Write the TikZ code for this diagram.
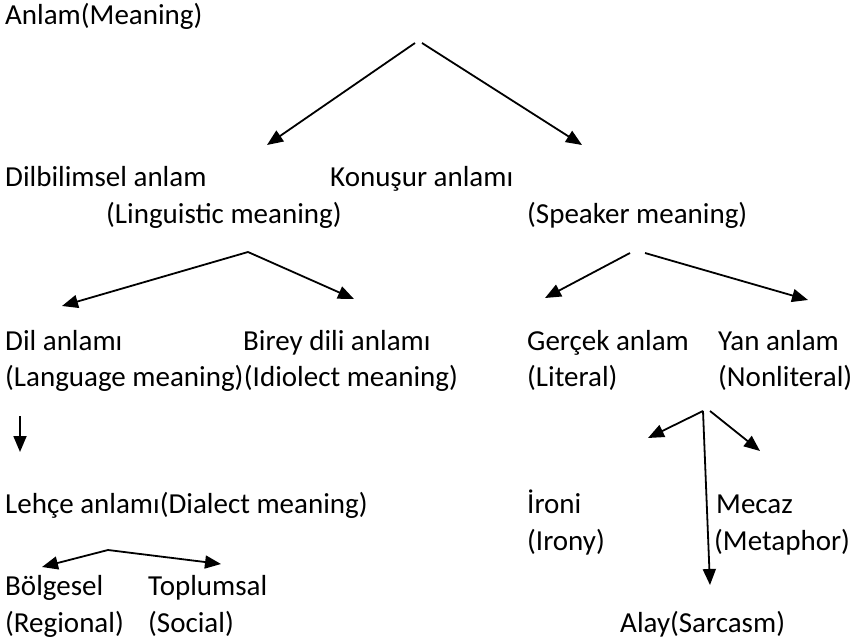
\documentclass[tikz,border=0pt]{standalone}
\usepackage{fontspec}
\setmainfont{Carlito}
\usetikzlibrary{arrows.meta}
\begin{document}
\begin{tikzpicture}[x=1pt,y=-1pt,
  lbl/.style={anchor=base west,inner sep=0pt,font=\fontsize{29}{35}\selectfont},
  arr/.style={line width=1.8pt,-{Triangle[length=16pt,width=13pt]}}]
\useasboundingbox[fill=white] (0,0) rectangle (856,644);
% texts
\node[lbl] (anlam) at (5,25) {Anlam(Meaning)};
\node[lbl] (dilb) at (5,187) {Dilbilimsel anlam};
\node[lbl] (konu) at (330,187) {Konuşur anlamı};
\node[lbl] (ling) at (106,224) {(Linguistic meaning)};
\node[lbl] (spk) at (527,224) {(Speaker meaning)};
\node[lbl] (dil) at (5,350) {Dil anlamı};
\node[lbl] (birey) at (243,350) {Birey dili anlamı};
\node[lbl] (gercek) at (527,350) {Gerçek anlam};
\node[lbl] (yan) at (718,350) {Yan anlam};
\node[lbl] (lang) at (5,386) {(Language meaning)};
\node[lbl] (idio) at (lang.base east) {(Idiolect meaning)};
\node[lbl] (lit) at (527,386) {(Literal)};
\node[lbl] (nonlit) at (718,386) {(Nonliteral)};
\node[lbl] (lehce) at (5,513) {Lehçe anlamı(Dialect meaning)};
\node[lbl] (ironi) at (527,513) {İroni};
\node[lbl] (mecaz) at (716,513) {Mecaz};
\node[lbl] (irony) at (527,550) {(Irony)};
\node[lbl] (meta) at (714,550) {(Metaphor)};
\node[lbl] (bolg) at (5,595) {Bölgesel};
\node[lbl] (topl) at (148,595) {Toplumsal};
\node[lbl] (reg) at (5,632) {(Regional)};
\node[lbl] (soc) at (148,632) {(Social)};
\node[lbl] (alay) at (620,632) {Alay(Sarcasm)};
% arrow points
\coordinate (a1s) at (415,43); \coordinate (a1t) at (267,145);
\coordinate (a2s) at (422,43); \coordinate (a2t) at (582,145);
\coordinate (b0) at (248,252); \coordinate (b1t) at (62,306); \coordinate (b2t) at (354,299);
\coordinate (c1s) at (630,253); \coordinate (c1t) at (545,298);
\coordinate (c2s) at (645,253); \coordinate (c2t) at (808,300);
\coordinate (d1s) at (20,416); \coordinate (d1t) at (20,452);
\coordinate (e0) at (703,411); \coordinate (e1t) at (648,438);
\coordinate (e2s) at (710,411); \coordinate (e2t) at (760,451);
\coordinate (e3t) at (710,585);
\coordinate (f0) at (108,550); \coordinate (f1t) at (42,567); \coordinate (f2t) at (221,564);
% arrows
\draw[arr] (a1s) -- (a1t);
\draw[arr] (a2s) -- (a2t);
\draw[arr] (b0) -- (b1t);
\draw[arr] (b0) -- (b2t);
\draw[arr] (c1s) -- (c1t);
\draw[arr] (c2s) -- (c2t);
\draw[arr] (d1s) -- (d1t);
\draw[arr] (e0) -- (e1t);
\draw[arr] (e2s) -- (e2t);
\draw[arr] (e0) -- (e3t);
\draw[arr] (f0) -- (f1t);
\draw[arr] (f0) -- (f2t);
\end{tikzpicture}
\end{document}
